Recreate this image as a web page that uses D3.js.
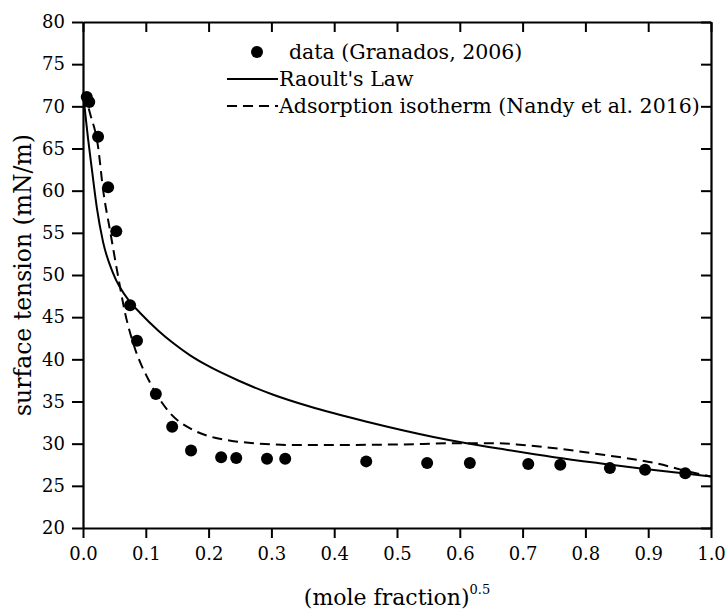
<!DOCTYPE html>
<html>
<head>
<meta charset="utf-8">
<script src="https://cdn.jsdelivr.net/npm/d3@7"></script>
<style>
  body { margin: 0; background: #fff; }
  text { font-family: "DejaVu Serif", serif; fill: #000; }
</style>
</head>
<body>
<svg id="chart" width="727" height="612"></svg>
<script>
// measured data (Granados, 2006)
const dataX = [0.006, 0.010, 0.024, 0.040, 0.053, 0.075, 0.086, 0.116, 0.142, 0.172, 0.220,
  0.244, 0.293, 0.322, 0.451, 0.548, 0.616, 0.709, 0.760, 0.839, 0.895, 0.959];
const dataY = [71.1, 70.5, 66.4, 60.4, 55.2, 46.4, 42.2, 35.9, 32.0, 29.2, 28.4,
  28.3, 28.2, 28.2, 27.9, 27.7, 27.7, 27.6, 27.5, 27.1, 26.9, 26.5];

// Raoult's law
const raoultX = [0, 0.004, 0.008, 0.014, 0.022, 0.032, 0.048, 0.075, 0.091, 0.120, 0.144, 0.170,
  0.197, 0.250, 0.303, 0.361, 0.452, 0.558, 0.611, 0.672, 0.750, 0.831, 0.895, 0.959, 1.000];
const raoultY = [71.6, 68.9, 66.2, 62.6, 58.0, 53.9, 50.2, 46.8, 45.5, 43.4, 41.9, 40.5,
  39.3, 37.4, 35.8, 34.4, 32.6, 30.8, 30.05, 29.3, 28.4, 27.6, 27.0, 26.45, 26.1];

// Adsorption isotherm (Nandy et al. 2016)
const isoX = [0, 0.005, 0.011, 0.024, 0.032, 0.043, 0.056, 0.067, 0.080, 0.107, 0.139, 0.176,
  0.210, 0.240, 0.282, 0.330, 0.400, 0.500, 0.600, 0.660, 0.700, 0.752, 0.831, 0.911, 0.969, 1.000];
const isoY = [71.5, 70.8, 69.2, 65.2, 60.1, 55.3, 49.8, 45.5, 41.9, 37.2, 33.6, 31.6,
  30.7, 30.3, 30.0, 29.85, 29.85, 29.9, 30.05, 30.05, 29.85, 29.45, 28.65, 27.7, 26.6, 26.1];

const xTicks = [0, 0.1, 0.2, 0.3, 0.4, 0.5, 0.6, 0.7, 0.8, 0.9, 1.0];
const yTicks = [20, 25, 30, 35, 40, 45, 50, 55, 60, 65, 70, 75, 80];

const legendLabels = ["data (Granados, 2006)", "Raoult's Law", "Adsorption isotherm (Nandy et al. 2016)"];

const margin = {left: 83, top: 22, right: 16, bottom: 84};
const width = 727, height = 612;
const svg = d3.select('#chart');

const x = d3.scaleLinear().domain([0, 1]).range([margin.left, width - margin.right]);
const y = d3.scaleLinear().domain([20, 80]).range([height - margin.bottom, margin.top]);

const fontSize = 18;

// curves
const line = d3.line().x(d => x(d[0])).y(d => y(d[1])).curve(d3.curveMonotoneX);

svg.append('path')
  .datum(raoultX.map((v, i) => [v, raoultY[i]]))
  .attr('d', line)
  .attr('fill', 'none')
  .attr('stroke', '#000')
  .attr('stroke-width', 2);

svg.append('path')
  .datum(isoX.map((v, i) => [v, isoY[i]]))
  .attr('d', line)
  .attr('fill', 'none')
  .attr('stroke', '#000')
  .attr('stroke-width', 2)
  .attr('stroke-dasharray', '10,6');

svg.selectAll('circle.pt')
  .data(dataX.map((v, i) => [v, dataY[i]]))
  .enter().append('circle')
  .attr('class', 'pt')
  .attr('cx', d => x(d[0]))
  .attr('cy', d => y(d[1]))
  .attr('r', 6)
  .attr('fill', '#000');

// axes
const fmtX = d3.format('.1f');
const axBottom = svg.append('g')
  .attr('transform', `translate(0,${y(20)})`)
  .call(d3.axisBottom(x).tickValues(xTicks).tickFormat(fmtX).tickSize(10).tickSizeOuter(0));
const axTop = svg.append('g')
  .attr('transform', `translate(0,${y(80)})`)
  .call(d3.axisBottom(x).tickValues(xTicks).tickFormat('').tickSize(10).tickSizeOuter(0));
const axLeft = svg.append('g')
  .attr('transform', `translate(${x(0)},0)`)
  .call(d3.axisLeft(y).tickValues(yTicks).tickSize(11).tickSizeOuter(0));
const axRight = svg.append('g')
  .attr('transform', `translate(${x(1)},0)`)
  .call(d3.axisLeft(y).tickValues(yTicks).tickFormat('').tickSize(10).tickSizeOuter(0));

[axBottom, axTop, axLeft, axRight].forEach(g => {
  g.select('.domain').attr('stroke-width', 2.2);
  g.selectAll('.tick line').attr('stroke-width', 2);
  g.selectAll('.tick text')
    .style('font-family', '"DejaVu Serif", serif')
    .style('font-size', fontSize + 'px');
});
axBottom.selectAll('.tick text').attr('dy', '1.05em');
axLeft.selectAll('.tick text').attr('x', -18);

// axis titles
const xt = svg.append('text')
  .attr('x', 397)
  .attr('y', 605)
  .attr('text-anchor', 'middle')
  .style('font-size', '22px');
xt.append('tspan').text('(mole fraction)');
xt.append('tspan').attr('dy', -11).style('font-size', '13px').text('0.5');

svg.append('text')
  .attr('transform', `translate(31,${(y(20) + y(80)) / 2}) rotate(-90)`)
  .attr('text-anchor', 'middle')
  .style('font-size', '23.5px')
  .text('surface tension (mN/m)');

// legend
const lg = svg.append('g');
const rowsY = [52, 79, 106];
lg.append('circle').attr('cx', 257).attr('cy', rowsY[0]).attr('r', 6).attr('fill', '#000');
lg.append('line').attr('x1', 227).attr('x2', 278).attr('y1', rowsY[1]).attr('y2', rowsY[1])
  .attr('stroke', '#000').attr('stroke-width', 2);
lg.append('line').attr('x1', 227).attr('x2', 278).attr('y1', rowsY[2]).attr('y2', rowsY[2])
  .attr('stroke', '#000').attr('stroke-width', 2).attr('stroke-dasharray', '10,6');
lg.selectAll('text.lab')
  .data(legendLabels)
  .enter().append('text')
  .attr('class', 'lab')
  .attr('x', (d, i) => i === 0 ? 289 : 279)
  .attr('y', (d, i) => rowsY[i])
  .attr('dy', '0.35em')
  .style('font-size', '20.5px')
  .text(d => d);
</script>
</body>
</html>
